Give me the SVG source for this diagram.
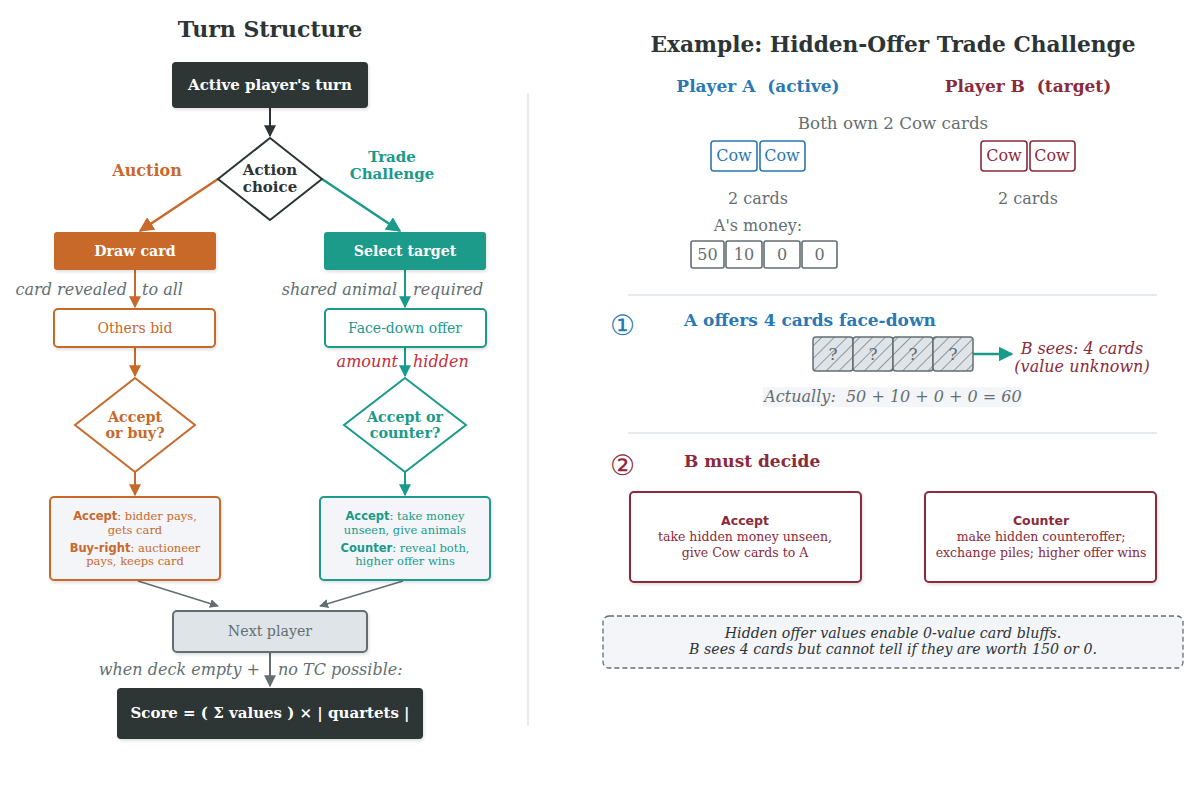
<svg xmlns="http://www.w3.org/2000/svg" width="1200" height="811" viewBox="0 0 1200 811">
<defs>
<filter id="sh" x="-10%" y="-10%" width="130%" height="140%"><feDropShadow dx="1" dy="2" stdDeviation="1.5" flood-color="#000" flood-opacity="0.12"/></filter>
<marker id="aDark" viewBox="0 0 10 10" refX="9" refY="5" markerWidth="6" markerHeight="6" orient="auto"><path d="M0,0 L10,5 L0,10 z" fill="#2d3436"/></marker>
<marker id="aOr" viewBox="0 0 10 10" refX="9" refY="5" markerWidth="6" markerHeight="6" orient="auto"><path d="M0,0 L10,5 L0,10 z" fill="#c8692c"/></marker>
<marker id="aTl" viewBox="0 0 10 10" refX="9" refY="5" markerWidth="6" markerHeight="6" orient="auto"><path d="M0,0 L10,5 L0,10 z" fill="#1a9a8a"/></marker>
<marker id="aGr" viewBox="0 0 10 10" refX="9" refY="5" markerWidth="6" markerHeight="6" orient="auto"><path d="M0,0 L10,5 L0,10 z" fill="#636e72"/></marker>
<pattern id="hatch" width="9" height="9" patternUnits="userSpaceOnUse" patternTransform="rotate(45)"><rect width="9" height="9" fill="#dfe4e8"/><line x1="0" y1="0" x2="0" y2="9" stroke="#636e72" stroke-width="1.3"/></pattern>
<style>
text{font-family:"DejaVu Serif","Liberation Serif",serif;}
.title{font-size:22px;font-weight:bold;fill:#2d3436;text-anchor:middle}
.wb{font-size:14.2px;font-weight:bold;fill:#fff;text-anchor:middle}
.c{text-anchor:middle}
.lbl{font-size:16px;font-style:italic;fill:#636e72}
.or{fill:#c8692c}.tl{fill:#1a9a8a}.bl{fill:#2a78b4}.rd{fill:#8b2a3a}.gy{fill:#636e72}
.sans{font-family:"DejaVu Sans","Liberation Sans",sans-serif;font-weight:bold}
.card{fill:#fff;stroke-width:1.6}
.sm{font-size:11.5px}
.md{font-size:12.5px}
</style>
</defs>
<rect width="1200" height="811" fill="#fff"/>

<text class="title" x="270" y="37">Turn Structure</text>
<text class="title" x="893" y="52" style="font-size:21.7px">Example: Hidden-Offer Trade Challenge</text>
<line x1="528" y1="93" x2="528" y2="726" stroke="#dfe4e8" stroke-width="1.5"/>

<g id="connectors" fill="none" stroke-width="2">
<line x1="270" y1="108" x2="270" y2="136" stroke="#2d3436" marker-end="url(#aDark)"/>
<line x1="218" y1="179" x2="140" y2="231" stroke="#c8692c" stroke-width="2.5" marker-end="url(#aOr)"/>
<line x1="322" y1="179" x2="400" y2="231" stroke="#1a9a8a" stroke-width="2.5" marker-end="url(#aTl)"/>
<line x1="135" y1="270" x2="135" y2="307" stroke="#c8692c" marker-end="url(#aOr)"/>
<line x1="405" y1="270" x2="405" y2="307" stroke="#1a9a8a" marker-end="url(#aTl)"/>
<line x1="135" y1="347" x2="135" y2="376" stroke="#c8692c" marker-end="url(#aOr)"/>
<line x1="405" y1="347" x2="405" y2="376" stroke="#1a9a8a" marker-end="url(#aTl)"/>
<line x1="135" y1="472" x2="135" y2="495" stroke="#c8692c" marker-end="url(#aOr)"/>
<line x1="405" y1="472" x2="405" y2="495" stroke="#1a9a8a" marker-end="url(#aTl)"/>
<line x1="138" y1="581" x2="218" y2="606" stroke="#636e72" stroke-width="1.5" marker-end="url(#aGr)"/>
<line x1="403" y1="581" x2="320" y2="606" stroke="#636e72" stroke-width="1.5" marker-end="url(#aGr)"/>
<line x1="270" y1="652" x2="270" y2="686" stroke="#636e72" marker-end="url(#aGr)"/>
<line x1="973" y1="354" x2="1012" y2="354" stroke="#1a9a8a" stroke-width="2.5" marker-end="url(#aTl)"/>
</g>

<g id="edge-labels">
<text class="or" x="147" y="176" font-size="16" font-weight="bold" text-anchor="middle">Auction</text>
<text class="tl c" x="392" y="162" font-size="15" font-weight="bold">Trade</text>
<text class="tl c" x="392" y="179" font-size="15" font-weight="bold">Challenge</text>
<text class="lbl" x="127" y="295" text-anchor="end">card revealed</text>
<text class="lbl" x="142" y="295">to all</text>
<text class="lbl" x="397" y="295" text-anchor="end">shared animal</text>
<text class="lbl" x="413" y="295">required</text>
<text class="lbl" x="398" y="367" text-anchor="end" style="fill:#c62d3a">amount</text>
<text class="lbl" x="413" y="367" style="fill:#c62d3a">hidden</text>
<text class="lbl" x="260" y="675" text-anchor="end">when deck empty +</text>
<text class="lbl" x="278" y="675">no TC possible:</text>
</g>

<g id="n-start"><rect x="172" y="62" width="196" height="46" rx="4" fill="#2d3436" filter="url(#sh)"/><text class="wb" x="270" y="90" style="font-size:15px">Active player's turn</text></g>
<g id="n-choice"><polygon points="270,138 322,179 270,220 218,179" fill="#fff" stroke="#2d3436" stroke-width="2"/><text class="c" x="270" y="175" font-size="15" font-weight="bold" fill="#2d3436">Action</text><text class="c" x="270" y="192" font-size="15" font-weight="bold" fill="#2d3436">choice</text></g>
<g id="n-draw"><rect x="54" y="232" width="162" height="38" rx="3" fill="#c8692c" filter="url(#sh)"/><text class="wb" x="135" y="256">Draw card</text></g>
<g id="n-select"><rect x="324" y="232" width="162" height="38" rx="3" fill="#1a9a8a" filter="url(#sh)"/><text class="wb" x="405" y="256">Select target</text></g>
<g id="n-bid"><rect x="54" y="309" width="161" height="38" rx="4" fill="#fff" stroke="#c8692c" stroke-width="2" filter="url(#sh)"/><text class="c or" x="135" y="333" font-size="14">Others bid</text></g>
<g id="n-offer"><rect x="325" y="309" width="161" height="38" rx="4" fill="#fff" stroke="#1a9a8a" stroke-width="2" filter="url(#sh)"/><text class="c tl" x="405" y="333" font-size="14">Face-down offer</text></g>
<g id="n-buy"><polygon points="135,378 195,425 135,472 75,425" fill="#fff" stroke="#c8692c" stroke-width="2"/><text class="c or" x="135" y="422" font-size="14.3" font-weight="bold">Accept</text><text class="c or" x="135" y="438" font-size="14.3" font-weight="bold">or buy?</text></g>
<g id="n-counter"><polygon points="405,378 466,425 405,472 344,425" fill="#fff" stroke="#1a9a8a" stroke-width="2"/><text class="c tl" x="405" y="422" font-size="14.3" font-weight="bold">Accept or</text><text class="c tl" x="405" y="438" font-size="14.3" font-weight="bold">counter?</text></g>
<g id="n-auc-res"><rect x="50" y="497" width="170" height="83" rx="4" fill="#f4f5f8" stroke="#c8692c" stroke-width="2" filter="url(#sh)"/>
<text class="c or sm" x="135" y="520"><tspan class="sans">Accept</tspan>: bidder pays,</text>
<text class="c or sm" x="135" y="534">gets card</text>
<text class="c or sm" x="135" y="552"><tspan class="sans">Buy-right</tspan>: auctioneer</text>
<text class="c or sm" x="135" y="565">pays, keeps card</text></g>
<g id="n-tc-res"><rect x="320" y="497" width="170" height="83" rx="4" fill="#f4f5f8" stroke="#1a9a8a" stroke-width="2" filter="url(#sh)"/>
<text class="c tl sm" x="405" y="520"><tspan class="sans">Accept</tspan>: take money</text>
<text class="c tl sm" x="405" y="534">unseen, give animals</text>
<text class="c tl sm" x="405" y="552"><tspan class="sans">Counter</tspan>: reveal both,</text>
<text class="c tl sm" x="405" y="565">higher offer wins</text></g>
<g id="n-next"><rect x="173" y="611" width="194" height="41" rx="4" fill="#dfe4e8" stroke="#636e72" stroke-width="2" filter="url(#sh)"/><text class="c gy" x="270" y="636" font-size="14.2">Next player</text></g>
<g id="n-score"><rect x="117" y="688" width="306" height="51" rx="4" fill="#2d3436" filter="url(#sh)"/><text class="wb" x="270" y="718" style="font-size:15px">Score = ( Σ values ) × | quartets |</text></g>

<g id="players">
<text class="c bl" x="758" y="92" font-size="17" font-weight="bold" xml:space="preserve">Player A  (active)</text>
<text class="c rd" x="1028" y="92" font-size="17" font-weight="bold" xml:space="preserve">Player B  (target)</text>
<text class="c gy" x="893" y="129" font-size="16.7">Both own 2 Cow cards</text>
</g>
<g id="a-cards">
<rect class="card" x="711" y="141" width="46" height="30" rx="3" stroke="#2a78b4"/><text class="c bl" x="734" y="161" font-size="16">Cow</text>
<rect class="card" x="760" y="141" width="45" height="30" rx="3" stroke="#2a78b4"/><text class="c bl" x="782" y="161" font-size="16">Cow</text>
<text class="c gy" x="758" y="204" font-size="16">2 cards</text>
<text class="c gy" x="758" y="231" font-size="16">A's money:</text>
</g>
<g id="b-cards">
<rect class="card" x="981" y="141" width="46" height="30" rx="3" stroke="#8b2a3a"/><text class="c rd" x="1004" y="161" font-size="16">Cow</text>
<rect class="card" x="1030" y="141" width="45" height="30" rx="3" stroke="#8b2a3a"/><text class="c rd" x="1052" y="161" font-size="16">Cow</text>
<text class="c gy" x="1028" y="204" font-size="16">2 cards</text>
</g>
<g id="money">
<rect class="card" x="691" y="241" width="33" height="27" rx="2" stroke="#636e72"/><text class="c gy" x="707.5" y="260" font-size="16">50</text>
<rect class="card" x="726" y="241" width="36" height="27" rx="2" stroke="#636e72"/><text class="c gy" x="744" y="260" font-size="16">10</text>
<rect class="card" x="764" y="241" width="36" height="27" rx="2" stroke="#636e72"/><text class="c gy" x="782" y="260" font-size="16">0</text>
<rect class="card" x="802" y="241" width="35" height="27" rx="2" stroke="#636e72"/><text class="c gy" x="819.5" y="260" font-size="16">0</text>
</g>
<line x1="628" y1="295" x2="1157" y2="295" stroke="#dfe4e8" stroke-width="1.5"/>
<g id="step1">
<text class="bl" x="622" y="335" font-size="28" text-anchor="middle" font-family="DejaVu Sans, sans-serif">①</text>
<text class="bl" x="684" y="326" font-size="17" font-weight="bold">A offers 4 cards face-down</text>
<g stroke="#636e72" stroke-width="1.5" fill="url(#hatch)">
<rect x="813" y="337" width="40" height="34" rx="3"/><rect x="853" y="337" width="40" height="34" rx="3"/><rect x="893" y="337" width="40" height="34" rx="3"/><rect x="933" y="337" width="40" height="34" rx="3"/>
</g>
<g class="gy" font-size="17"><text class="c" x="833" y="360">?</text><text class="c" x="873" y="360">?</text><text class="c" x="913" y="360">?</text><text class="c" x="953" y="360">?</text></g>
<text class="c rd" x="1082" y="354" font-size="16" font-style="italic">B sees: 4 cards</text>
<text class="c rd" x="1082" y="372" font-size="16" font-style="italic">(value unknown)</text>
<rect x="763" y="387" width="259" height="20" fill="#f4f5f8"/>
<text class="c gy" x="893" y="402" font-size="16" font-style="italic" xml:space="preserve">Actually:  50 + 10 + 0 + 0 = 60</text>
</g>
<line x1="628" y1="433" x2="1157" y2="433" stroke="#dfe4e8" stroke-width="1.5"/>
<g id="step2">
<text class="rd" x="622" y="475" font-size="28" text-anchor="middle" font-family="DejaVu Sans, sans-serif">②</text>
<text class="rd" x="684" y="467" font-size="17" font-weight="bold">B must decide</text>
</g>
<g id="opt-accept"><rect x="630" y="492" width="231" height="90" rx="4" fill="#fff" stroke="#8b2a3a" stroke-width="2" filter="url(#sh)"/>
<text class="c rd sans" x="745" y="525" font-size="12.5">Accept</text>
<text class="c rd md" x="745" y="541">take hidden money unseen,</text>
<text class="c rd md" x="745" y="557">give Cow cards to A</text></g>
<g id="opt-counter"><rect x="925" y="492" width="231" height="90" rx="4" fill="#fff" stroke="#8b2a3a" stroke-width="2" filter="url(#sh)"/>
<text class="c rd sans" x="1041" y="525" font-size="12.5">Counter</text>
<text class="c rd md" x="1041" y="541">make hidden counteroffer;</text>
<text class="c rd md" x="1041" y="557">exchange piles; higher offer wins</text></g>
<g id="note"><rect x="603" y="616" width="580" height="52" rx="6" fill="#f4f5f8" stroke="#636e72" stroke-width="1.3" stroke-dasharray="5,3"/>
<text class="c" x="893" y="638" font-size="14.2" font-style="italic" fill="#2d3436">Hidden offer values enable 0-value card bluffs.</text>
<text class="c" x="893" y="654" font-size="14.2" font-style="italic" fill="#2d3436">B sees 4 cards but cannot tell if they are worth 150 or 0.</text></g>
</svg>
